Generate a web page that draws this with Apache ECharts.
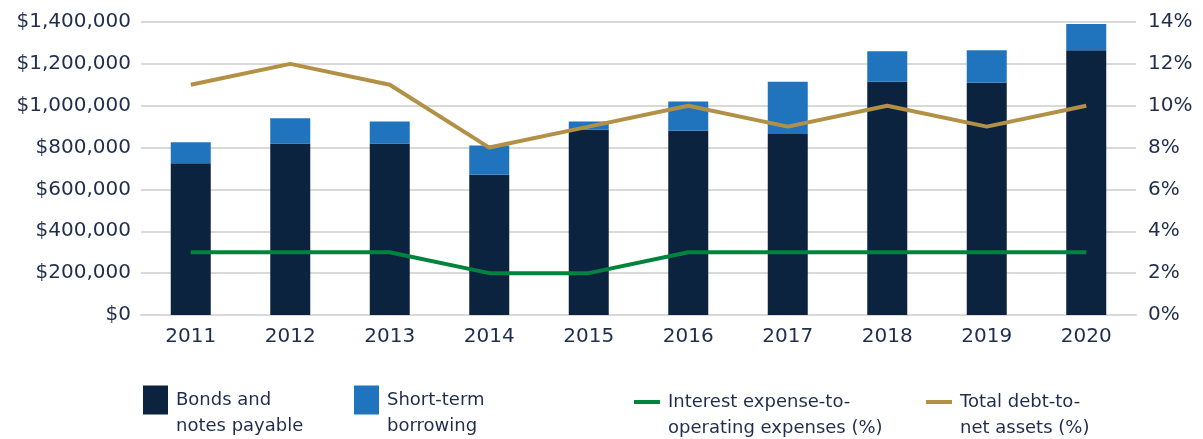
<!DOCTYPE html>
<html>
<head>
<meta charset="utf-8">
<script src="https://cdn.jsdelivr.net/npm/echarts@6/dist/echarts.min.js"></script>
<style>
  html, body { margin: 0; padding: 0; background: #fff; }
  #chart { width: 1203px; height: 439px; }
</style>
</head>
<body>
<div id="chart"></div>
<script>
const years = ['2011', '2012', '2013', '2014', '2015', '2016', '2017', '2018', '2019', '2020']
const bondsPayable = [725000, 820000, 820000, 670000, 885000, 880000, 865000, 1115000, 1110000, 1265000]
const shortTerm = [100000, 120000, 105000, 140000, 40000, 140000, 250000, 145000, 155000, 125000]
const interestPct = [3, 3, 3, 2, 2, 3, 3, 3, 3, 3]
const debtPct = [11, 12, 11, 8, 9, 10, 9, 10, 9, 10]

const textColor = '#1f2e4d'
const font = 'DejaVu Sans'

const chart = echarts.init(document.getElementById('chart'))

// one legend per item so each can sit where it does in the picture;
// a blank first line makes the icon line up with the first text line
function legendItem(name, left, top, w, h) {
  return {
    data: [name],
    left: left,
    top: top,
    padding: 0,
    icon: 'rect',
    itemWidth: w,
    itemHeight: h,
    itemGap: 0,
    selectedMode: false,
    formatter: n => '\n' + n,
    textStyle: {
      color: textColor,
      fontFamily: font,
      fontSize: 18,
      lineHeight: 26,
      padding: [0, 0, 0, 3]
    }
  }
}

chart.setOption({
  animation: false,
  textStyle: { fontFamily: font },
  grid: { left: 141, right: 67, top: 22, bottom: 124 },
  legend: [
    legendItem('Bonds and\nnotes payable', 143, 361, 25, 29),
    legendItem('Short-term\nborrowing', 354, 361, 25, 29),
    legendItem('Interest expense-to-\noperating expenses (%)', 634, 363, 26, 4),
    legendItem('Total debt-to-\nnet assets (%)', 926, 363, 26, 4)
  ],
  xAxis: {
    type: 'category',
    data: years,
    axisLine: { lineStyle: { color: '#d9d9d9', width: 2 } },
    axisTick: { show: false },
    axisLabel: { color: textColor, fontSize: 20, margin: 12 }
  },
  yAxis: [{
    type: 'value',
    min: 0,
    max: 1400000,
    interval: 200000,
    axisLine: { show: false },
    axisTick: { show: false },
    splitLine: { lineStyle: { color: '#d9d9d9', width: 2 } },
    axisLabel: {
      color: textColor,
      fontSize: 20,
      margin: 10,
      formatter: v => '$' + v.toLocaleString('en-US')
    }
  }, {
    type: 'value',
    min: 0,
    max: 14,
    interval: 2,
    axisLine: { show: false },
    axisTick: { show: false },
    splitLine: { show: false },
    axisLabel: {
      color: textColor,
      fontSize: 20,
      margin: 12,
      formatter: '{value}%'
    }
  }],
  series: [{
    name: 'Bonds and\nnotes payable',
    type: 'bar',
    stack: 'debt',
    barWidth: 40,
    data: bondsPayable,
    itemStyle: { color: '#0c2340' }
  }, {
    name: 'Short-term\nborrowing',
    type: 'bar',
    stack: 'debt',
    barWidth: 40,
    data: shortTerm,
    itemStyle: { color: '#1f74bd' }
  }, {
    name: 'Interest expense-to-\noperating expenses (%)',
    type: 'line',
    yAxisIndex: 1,
    data: interestPct,
    symbol: 'none',
    lineStyle: { color: '#00843d', width: 4 },
    itemStyle: { color: '#00843d' }
  }, {
    name: 'Total debt-to-\nnet assets (%)',
    type: 'line',
    yAxisIndex: 1,
    data: debtPct,
    symbol: 'none',
    lineStyle: { color: '#b29146', width: 4 },
    itemStyle: { color: '#b29146' }
  }]
})
</script>
</body>
</html>
